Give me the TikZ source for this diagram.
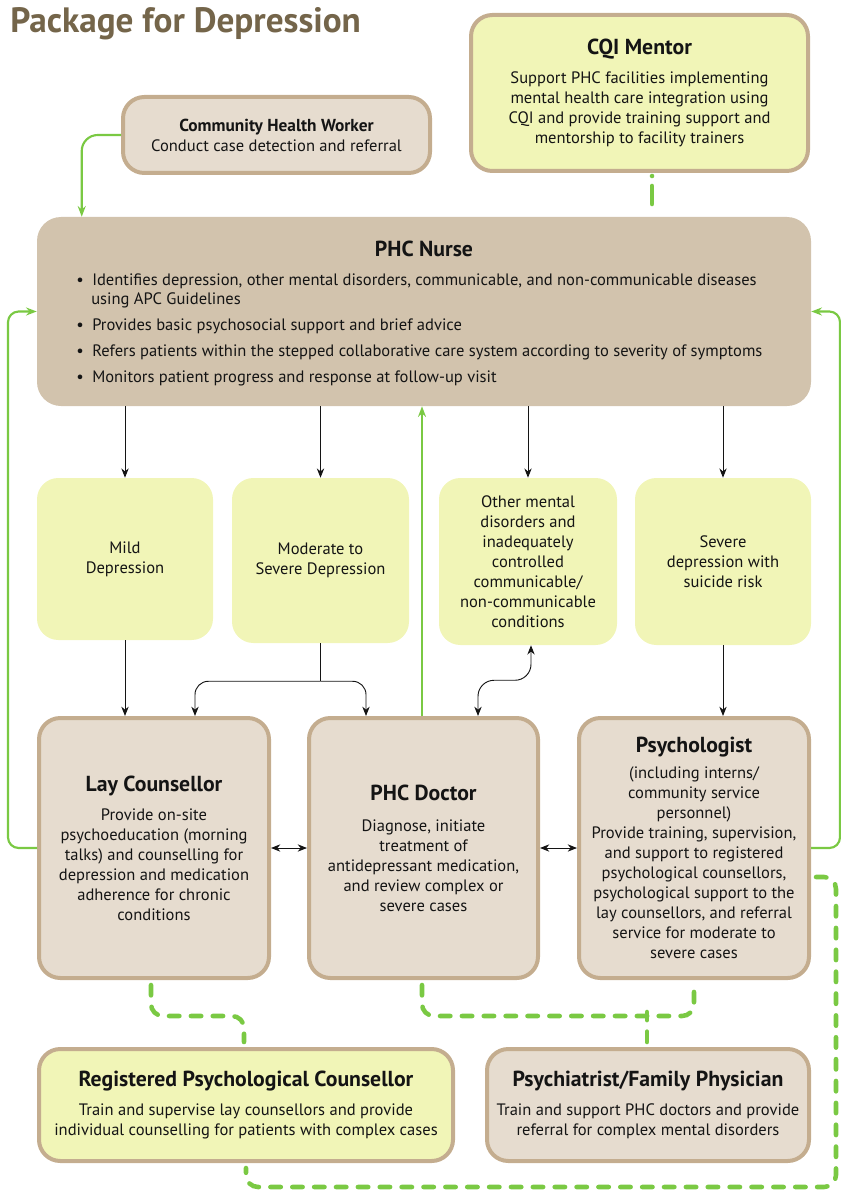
\documentclass[tikz,border=0pt]{standalone}
\usepackage{fontspec}
\setmainfont{PT Sans}
\usetikzlibrary{arrows.meta,calc}
\definecolor{beige}{HTML}{E6DCCF}
\definecolor{tanb}{HTML}{C4AD8F}
\definecolor{nursec}{HTML}{D2C3AD}
\definecolor{yel}{HTML}{F1F5B7}
\definecolor{grn}{HTML}{7AC943}
\definecolor{ttl}{HTML}{74654A}
\definecolor{ink}{HTML}{141414}
\newcommand\bodyf{\fontsize{12.4}{15}\selectfont}
\newcommand\ttlf{\bfseries\fontsize{16.3}{18}\selectfont}
\newcommand\bul{\makebox[12pt][l]{\textbullet}}
\tikzset{
 box/.style={rounded corners=16pt, line width=3pt, draw=tanb, inner sep=0pt, align=center, font=\bodyf, text=ink},
 beigebox/.style={box, fill=beige},
 yelbox/.style={box, fill=yel},
 plainyel/.style={rounded corners=16pt, fill=yel, inner sep=0pt, align=center, font=\bodyf, text=ink},
 btxt/.style={anchor=base west, inner sep=0pt, font=\bodyf, text=ink},
 arr/.style={-{Stealth[length=7pt,width=5.5pt]}, line width=0.7pt, draw=ink},
 darr/.style={{Stealth[length=7pt,width=5.5pt]}-{Stealth[length=7pt,width=5.5pt]}, line width=0.7pt, draw=ink},
 garr/.style={-{Stealth[length=8pt,width=6pt]}, line width=1.6pt, draw=grn},
 dd/.style={draw=grn, line width=3.4pt, line cap=round, dash pattern=on 7.8pt off 8.6pt, rounded corners=9pt},
}
\begin{document}
\begin{tikzpicture}[x=0.75pt,y=-0.75pt]
\useasboundingbox (0,0) rectangle (840,1191);
% title
\node[anchor=base west, inner sep=0pt, font=\bfseries\fontsize{26.4}{30}\selectfont, text=ttl] (title) at (10,33) {Package for Depression};
% top boxes
\node[yelbox, minimum width=252.75pt, minimum height=117pt] (cqi) at (639.5,93)
 {{\ttlf CQI Mentor}\\[7pt]Support PHC facilities implementing\\mental health care integration using\\CQI and provide training support and\\mentorship to facility trainers};
\node[beigebox, minimum width=230.25pt, minimum height=57pt] (chw) at (276.5,135)
 {{\bfseries\fontsize{13}{15}\selectfont Community Health Worker}\\Conduct case detection and referral};
% nurse
\node[fill=nursec, rounded corners=18pt, minimum width=580.5pt, minimum height=141.75pt, inner sep=0pt] (nurse) at (424,311.5) {};
\node[font=\ttlf, text=ink, inner sep=0pt] (nt) at (424,249) {PHC Nurse};
\node[btxt] (b1) at (76,285) {\bul Identifies depression, other mental disorders, communicable, and non-communicable diseases};
\node[btxt] (b1b) at (91,304) {using APC Guidelines};
\node[btxt] (b2) at (76,330) {\bul Provides basic psychosocial support and brief advice};
\node[btxt] (b3) at (76,356) {\bul Refers patients within the stepped collaborative care system according to severity of symptoms};
\node[btxt] (b4) at (76,382) {\bul Monitors patient progress and response at follow-up visit};
% middle yellow boxes
\node[plainyel, minimum width=132pt, minimum height=121.5pt] (mild) at (125,559) {Mild\\Depression};
\node[plainyel, minimum width=132.75pt, minimum height=123.75pt] (mod) at (320.5,560.5) {Moderate to\\Severe Depression};
\node[plainyel, minimum width=133.5pt, minimum height=125.25pt] (other) at (528,561.5)
 {Other mental\\disorders and\\inadequately\\controlled\\communicable/\\non-communicable\\conditions};
\node[plainyel, minimum width=132pt, minimum height=125.25pt] (severe) at (723,561.5) {Severe\\depression with\\suicide risk};
% bottom row
\node[beigebox, minimum width=172.5pt, minimum height=195pt] (lay) at (154,848)
 {{\ttlf Lay Counsellor}\\[7pt]Provide on-site\\psychoeducation (morning\\talks) and counselling for\\depression and medication\\adherence for chronic\\conditions};
\node[beigebox, minimum width=171.75pt, minimum height=195pt] (doctor) at (423.5,848)
 {{\ttlf PHC Doctor}\\[8pt]Diagnose, initiate\\treatment of\\antidepressant medication,\\and review complex or\\severe cases};
\node[beigebox, minimum width=172.5pt, minimum height=195pt] (psych) at (694,848)
 {{\ttlf Psychologist}\\[4pt](including interns/\\community service\\personnel)\\Provide training, supervision,\\and support to registered\\psychological counsellors,\\psychological support to the\\lay counsellors, and referral\\service for moderate to\\severe cases};
% lowest boxes
\node[yelbox, minimum width=310.5pt, minimum height=84pt] (rpc) at (246,1105)
 {{\ttlf Registered Psychological Counsellor}\\[7pt]Train and supervise lay counsellors and provide\\individual counselling for patients with complex cases};
\node[beigebox, minimum width=241.5pt, minimum height=84pt] (psychiatrist) at (648,1105)
 {{\ttlf Psychiatrist/Family Physician}\\[7pt]Train and support PHC doctors and provide\\referral for complex mental disorders};
% black arrows
\draw[arr] (nurse.south -| mild.north) -- (mild.north);
\draw[arr] (nurse.south -| mod.north) -- (mod.north);
\draw[arr] (nurse.south -| other.north) -- (other.north);
\draw[arr] (nurse.south -| severe.north) -- (severe.north);
\draw[arr] (mild.south) -- (mild.south |- lay.north);
\coordinate (split) at ($(mod.south)+(0,38)$);
\draw[line width=0.7pt, draw=ink] (mod.south) -- (split);
\draw[arr, rounded corners=10pt] (split) -| ($(lay.north)+(41,0)$);
\draw[arr, rounded corners=10pt] (split) -| ($(doctor.north)+(-57.5,0)$);
\coordinate (oa) at ($(other.south)+(3,0)$);
\coordinate (da) at ($(doctor.north)+(54.5,0)$);
\draw[darr, rounded corners=12pt] (oa) -- ($(oa)+(0,35)$) -| (da);
\draw[arr] (severe.south) -- (severe.south |- psych.north);
\draw[darr] (lay.east) -- (doctor.west);
\draw[darr] (doctor.east) -- (psych.west);
% green arrows
\coordinate (dg) at ($(doctor.north)+(-1.5,0)$);
\draw[garr] (dg) -- (dg |- nurse.south);
\draw[garr, rounded corners=8pt] (lay.west) -- ++(-29,0) |- (nurse.west);
\draw[garr, rounded corners=8pt] (psych.east) -- ++(29,0) |- (nurse.east);
\coordinate (cn) at ($(nurse.north west)+(45,0)$);
\draw[garr, rounded corners=12pt] (chw.west) -| (cn);
% dash-dot links
\coordinate (cq) at ($(cqi.south)+(12.5,0)$);
\draw[dd, dash pattern=on 0pt off 7.5pt on 13.5pt off 7.5pt on 0pt off 10pt] ($(cq)+(0,3)$) -- ($(cq |- nurse.north)+(0,-4)$);
\coordinate (ls) at ($(lay.south)+(-3,5)$);
\coordinate (rn) at ($(rpc.north)+(-2,-5)$);
\draw[dd] (ls) -- ($(ls)+(0,31)$) -| (rn);
\coordinate (ds) at ($(doctor.south)+(-1.5,5)$);
\draw[dd] (ds) -- ($(ds)+(0,31)$) -| ($(psych.south)+(0,5)$);
\draw[dd] ($(psychiatrist.north)+(-1,-5)$) -- ($(psychiatrist.north)+(-1,-35)$);
\coordinate (pe) at ($(psych.east)+(5,29)$);
\draw[dd] (pe) -| ($(rpc.south)+(590,24)$) -| ($(rpc.south)+(0,5)$);
\end{tikzpicture}
\end{document}
